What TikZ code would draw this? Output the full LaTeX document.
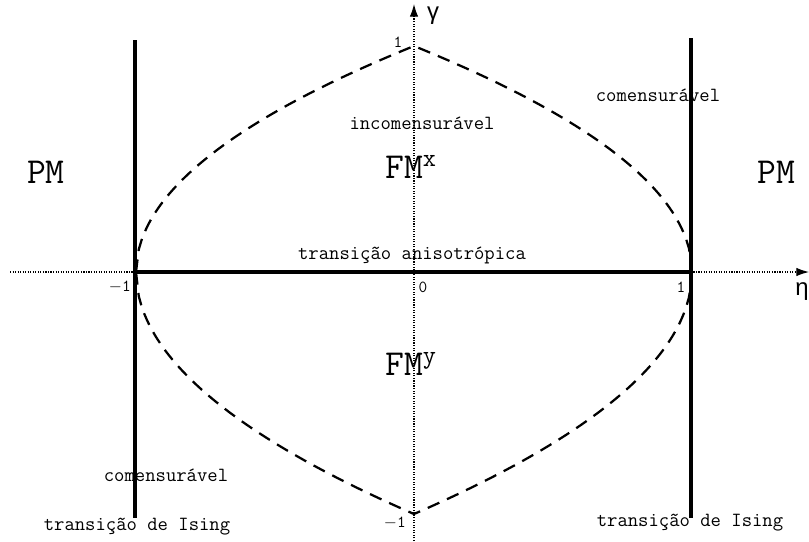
\documentclass[tikz,border=0pt]{standalone}
\usepackage{fontspec}
\newfontfamily\greekfont{Liberation Sans}
\usetikzlibrary{arrows.meta}
\begin{document}
\begin{tikzpicture}[
x=0.025cm, y=-0.025cm,
every node/.style={
inner sep=0pt
},
label/.style={font=\ttfamily\fontsize{14.3}{16}\selectfont},
phase/.style={font=\ttfamily\fontsize{26}{30}\selectfont},
tick/.style={font=\ttfamily\fontsize{12}{14}\selectfont},
greek/.style={font=\fontsize{17}{20}\selectfont\greekfont},
axis/.style={densely dotted, line width=0.8pt},
wall/.style={line width=3pt},
border/.style={line width=1.6pt, dash pattern=on 9pt off 6pt}
]
\useasboundingbox (0,0) rectangle (809,541);

% axes
\coordinate (xl) at (10,272);
\coordinate (xr) at (809,272);
\coordinate (yb) at (414,541);
\coordinate (yt) at (414,4);
\draw[axis,-{Latex[length=9pt,width=6pt]}] (xl) -- (xr);
\draw[axis,-{Latex[length=9pt,width=6pt]}] (yb) -- (yt);

\node[greek] (gamma) at (433,16) {γ};
\node[greek, anchor=east] (eta) at (809,292) {η};

% transition lines
\coordinate (lt) at (135,40);
\coordinate (lb) at (135,518);
\coordinate (rt) at (691,38);
\coordinate (rb) at (691,518);
\coordinate (m) at (135,272);
\coordinate (p) at (691,272);
\draw[wall] (lt) -- (lb);
\draw[wall] (rt) -- (rb);
\draw[wall] (m) -- (p);

% boundaries of the incommensurate phase
\draw[border] plot[domain=-1:1, samples=201] ({414+278*\x}, {272-226*sqrt(1-abs(\x))});
\draw[border] plot[domain=-1:1, samples=201] ({414+278*\x}, {272+242*sqrt(1-abs(\x))});

% ticks
\node[tick] (one) at (398,42) {1};
\node[tick] (zero) at (423,287) {0};
\node[tick, anchor=east] (mone) at (131,287) {$-$1};
\node[tick] (onex) at (681,287) {1};
\node[tick, anchor=east] (money) at (406,523) {$-$1};

% phases
\node[phase] (pml) at (46,172) {PM};
\node[phase] (pmr) at (776,172) {PM};
\node[phase] (fmx) at (411,167) {FM\textsuperscript{x}};
\node[phase] (fmy) at (411,364) {FM\textsuperscript{y}};

% labels
\node[label] (inc) at (422,123) {incomensurável};
\node[label] (comr) at (658,95) {comensurável};
\node[label] (coml) at (166,475) {comensurável};
\node[label] (aniso) at (412,255) {transição anisotrópica};
\node[label] (isl) at (137,527) {transição de Ising};
\node[label] (isr) at (690,523) {transição de Ising};

\end{tikzpicture}
\end{document}
